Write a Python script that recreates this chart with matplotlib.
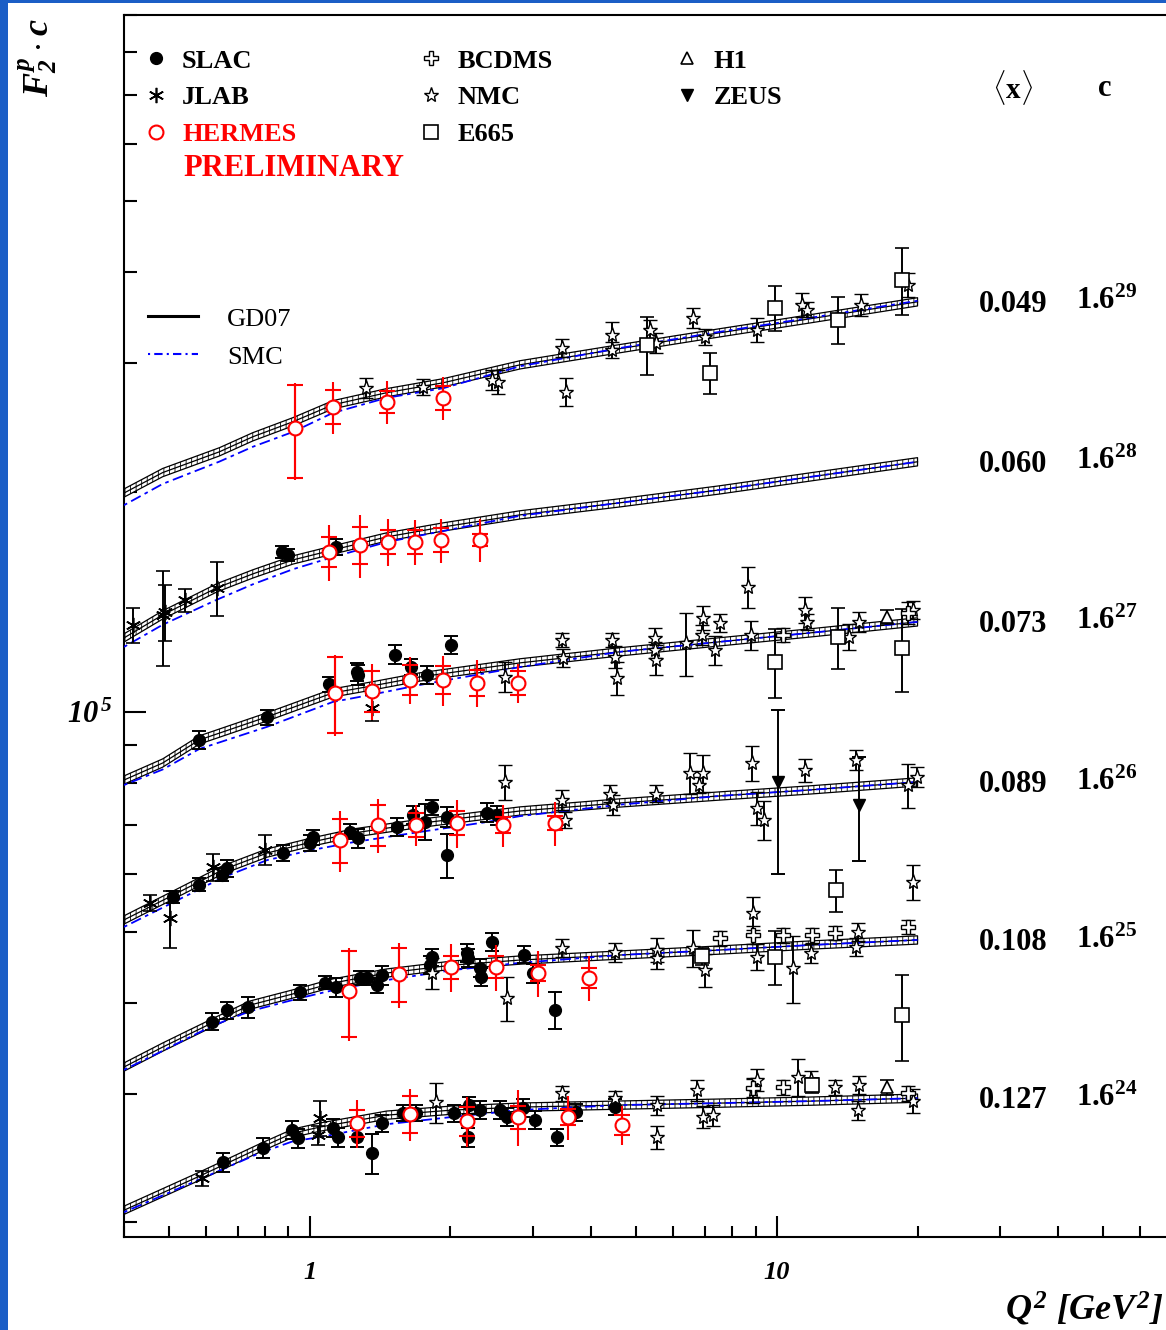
import numpy as np
import matplotlib
matplotlib.use('Agg')
import matplotlib.pyplot as plt
from matplotlib.lines import Line2D
from matplotlib.patches import Rectangle
from matplotlib.ticker import LogLocator, NullFormatter

plt.rcParams['font.family'] = 'Liberation Serif'
plt.rcParams['mathtext.fontset'] = 'custom'
plt.rcParams['mathtext.rm'] = 'Liberation Serif:italic:bold'
plt.rcParams['mathtext.bf'] = 'Liberation Serif:bold'
plt.rcParams['mathtext.it'] = 'Liberation Serif:italic:bold'
plt.rcParams['hatch.linewidth'] = 0.6

# x bins, each scaled by c = 1.6**n
X_MEAN = ['0.049', '0.060', '0.073', '0.089', '0.108', '0.127']
C_EXP = [29, 28, 27, 26, 25, 24]
C_BASE = 1.6
GD07_REL_ERR = 0.013   # half width of the GD07 band

# GD07 / SMC curves (Q2 knots, F2)
CURVE_Q2 = [
    [0.40, 0.484, 0.64, 0.755, 0.92, 1.12, 1.46, 1.93, 2.82, 4.6, 7.55, 11.8, 20],
    [0.40, 0.484, 0.632, 0.755, 0.92, 1.12, 1.46, 1.93, 2.82, 4.6, 7.55, 11.8, 20],
    [0.40, 0.484, 0.58, 0.81, 1.12, 1.36, 1.72, 2.82, 4.6, 7.55, 11.8, 20],
    [0.40, 0.51, 0.65, 0.81, 1.01, 1.24, 1.72, 2.39, 2.82, 4.6, 7.55, 11.8, 20],
    [0.40, 0.484, 0.617, 0.744, 0.952, 1.12, 1.46, 2.02, 2.82, 4.6, 7.55, 11.8, 20],
    [0.40, 0.58, 0.78, 0.92, 1.05, 1.46, 2.02, 2.82, 4.6, 7.55, 11.8, 20],
]
GD07_F2 = [
    [0.240, 0.256, 0.2733, 0.2866, 0.3005, 0.3170, 0.3293, 0.3398, 0.3596, 0.3783, 0.3978, 0.4158, 0.4386],
    [0.2432, 0.2615, 0.2848, 0.2976, 0.3110, 0.3209, 0.3344, 0.3451, 0.3585, 0.3723, 0.3879, 0.4041, 0.4238],
    [0.2486, 0.2623, 0.2821, 0.3034, 0.3272, 0.3345, 0.3441, 0.3597, 0.3724, 0.3844, 0.3954, 0.4093],
    [0.2559, 0.2768, 0.2996, 0.3160, 0.3272, 0.3366, 0.3470, 0.3562, 0.3608, 0.3700, 0.3783, 0.3856, 0.3954],
    [0.2575, 0.2742, 0.2958, 0.3130, 0.3261, 0.3356, 0.3463, 0.3551, 0.3608, 0.3665, 0.3724, 0.3783, 0.3844],
    [0.2623, 0.2920, 0.3191, 0.3345, 0.3409, 0.3540, 0.3597, 0.3631, 0.3654, 0.3677, 0.3700, 0.3735],
]
SMC_F2 = [
    [0.231, 0.247, 0.265, 0.2777, 0.291, 0.309, 0.324, 0.334, 0.358, 0.379, 0.399, 0.417, 0.440],
    [0.2364, 0.2535, 0.2743, 0.288, 0.302, 0.3138, 0.329, 0.3407, 0.3575, 0.3723, 0.3879, 0.4041, 0.4238],
    [0.2447, 0.257, 0.2742, 0.294, 0.318, 0.3255, 0.3355, 0.355, 0.3724, 0.3844, 0.3954, 0.4093],
    [0.2503, 0.2705, 0.2924, 0.309, 0.319, 0.327, 0.3377, 0.3484, 0.355, 0.368, 0.3783, 0.3856, 0.3954],
    [0.2552, 0.271, 0.293, 0.307, 0.320, 0.328, 0.3387, 0.3495, 0.3576, 0.3665, 0.3724, 0.3783, 0.3844],
    [0.2607, 0.289, 0.314, 0.326, 0.3303, 0.344, 0.352, 0.3598, 0.3654, 0.3677, 0.3700, 0.3735],
]

# data points: (bin, Q2, F2, error)
SLAC = [
    (1, 0.87, 0.319, 0.006), (1, 0.90, 0.316, 0.006), (1, 1.14, 0.324, 0.008),
    (2, 0.58, 0.282, 0.008), (2, 0.81, 0.303, 0.007), (2, 1.10, 0.336, 0.008),
    (2, 1.27, 0.346, 0.011), (2, 1.26, 0.350, 0.010), (2, 1.52, 0.369, 0.011),
    (2, 1.65, 0.355, 0.009), (2, 1.78, 0.346, 0.010), (2, 2.01, 0.381, 0.011),
    (3, 0.51, 0.275, 0.005), (3, 0.58, 0.286, 0.006), (3, 0.65, 0.295, 0.006),
    (3, 0.664, 0.301, 0.008), (3, 0.875, 0.316, 0.008), (3, 1.0, 0.326, 0.008),
    (3, 1.015, 0.332, 0.008), (3, 1.22, 0.338, 0.008), (3, 1.27, 0.331, 0.010),
    (3, 1.54, 0.343, 0.010), (3, 1.66, 0.356, 0.010), (3, 1.76, 0.349, 0.020),
    (3, 1.83, 0.365, 0.009), (3, 1.97, 0.314, 0.022), (3, 1.97, 0.354, 0.011),
    (3, 2.39, 0.359, 0.011), (3, 2.52, 0.356, 0.011),
    (4, 0.617, 0.297, 0.008), (4, 0.664, 0.308, 0.008), (4, 0.737, 0.311, 0.010),
    (4, 0.952, 0.326, 0.008), (4, 1.077, 0.336, 0.007), (4, 1.14, 0.331, 0.010),
    (4, 1.28, 0.341, 0.008), (4, 1.325, 0.341, 0.008), (4, 1.39, 0.333, 0.008),
    (4, 1.43, 0.344, 0.010), (4, 1.83, 0.364, 0.010), (4, 1.81, 0.355, 0.010),
    (4, 2.17, 0.369, 0.010), (4, 2.18, 0.363, 0.010), (4, 2.31, 0.352, 0.010),
    (4, 2.33, 0.342, 0.010), (4, 2.45, 0.382, 0.011), (4, 2.88, 0.367, 0.010),
    (4, 3.0, 0.346, 0.010), (4, 3.35, 0.308, 0.018),
    (5, 0.651, 0.305, 0.009), (5, 0.793, 0.319, 0.010), (5, 0.915, 0.338, 0.010),
    (5, 0.943, 0.329, 0.010), (5, 1.12, 0.340, 0.010), (5, 1.15, 0.330, 0.010),
    (5, 1.26, 0.330, 0.010), (5, 1.36, 0.314, 0.020), (5, 1.43, 0.345, 0.009),
    (5, 1.58, 0.356, 0.009), (5, 1.69, 0.356, 0.009), (5, 2.04, 0.356, 0.010),
    (5, 2.18, 0.330, 0.010), (5, 2.19, 0.365, 0.010), (5, 2.31, 0.360, 0.010),
    (5, 2.55, 0.360, 0.010), (5, 2.64, 0.352, 0.010), (5, 2.86, 0.362, 0.010),
    (5, 3.03, 0.349, 0.010), (5, 3.38, 0.330, 0.009), (5, 3.72, 0.357, 0.010),
    (5, 4.5, 0.363, 0.009),
]
JLAB = [
    (1, 0.418, 0.2534, 0.014), (1, 0.484, 0.2615, 0.039), (1, 0.49, 0.264, 0.023),
    (1, 0.54, 0.274, 0.010), (1, 0.632, 0.285, 0.024),
    (2, 1.36, 0.312, 0.013),
    (3, 0.454, 0.270, 0.007), (3, 0.501, 0.2575, 0.023), (3, 0.62, 0.302, 0.013),
    (3, 0.80, 0.319, 0.015),
    (5, 0.587, 0.290, 0.007), (5, 1.05, 0.3506, 0.019), (5, 1.04, 0.332, 0.010),
]
# HERMES: (bin, Q2, F2, stat, total)
HERMES = [
    (0, 0.929, 0.2947, 0.043, 0.045), (0, 1.12, 0.3150, 0.017, 0.026),
    (0, 1.46, 0.3200, 0.011, 0.022), (0, 1.93, 0.3240, 0.012, 0.022),
    (1, 1.10, 0.3191, 0.015, 0.028), (1, 1.28, 0.3261, 0.019, 0.032),
    (1, 1.47, 0.3293, 0.0125, 0.024), (1, 1.68, 0.3293, 0.0125, 0.023),
    (1, 1.91, 0.3313, 0.0125, 0.023), (1, 2.31, 0.3313, 0.006, 0.022),
    (2, 1.13, 0.3272, 0.039, 0.042), (2, 1.36, 0.3293, 0.021, 0.029),
    (2, 1.64, 0.3409, 0.016, 0.025), (2, 1.93, 0.3409, 0.015, 0.027),
    (2, 2.28, 0.3377, 0.014, 0.025), (2, 2.79, 0.3377, 0.013, 0.021),
    (3, 1.16, 0.3293, 0.023, 0.032), (3, 1.40, 0.3452, 0.022, 0.029),
    (3, 1.69, 0.3452, 0.013, 0.022), (3, 2.07, 0.3474, 0.013, 0.026),
    (3, 2.59, 0.3452, 0.009, 0.023), (3, 3.35, 0.3474, 0.008, 0.024),
    (4, 1.21, 0.3272, 0.044, 0.048), (4, 1.55, 0.3452, 0.029, 0.035),
    (4, 2.01, 0.3529, 0.013, 0.027), (4, 2.50, 0.3529, 0.012, 0.026),
    (4, 3.08, 0.3463, 0.009, 0.025), (4, 3.96, 0.3409, 0.011, 0.024),
    (5, 1.26, 0.3452, 0.015, 0.026), (5, 1.64, 0.3551, 0.021, 0.029),
    (5, 2.17, 0.3474, 0.016, 0.027), (5, 2.79, 0.3518, 0.013, 0.031),
    (5, 3.57, 0.3518, 0.009, 0.024), (5, 4.66, 0.3430, 0.011, 0.021),
]
NMC = [
    (0, 1.32, 0.3344, 0.0105), (0, 1.75, 0.3355, 0.0085), (0, 2.53, 0.3409, 0.013),
    (0, 2.45, 0.343, 0.011), (0, 3.46, 0.3794, 0.011), (0, 3.54, 0.3303, 0.015),
    (0, 4.43, 0.3952, 0.016), (0, 4.43, 0.3770, 0.0095), (0, 5.35, 0.4015, 0.012),
    (0, 5.5, 0.3855, 0.012), (0, 6.61, 0.4171, 0.013), (0, 7.01, 0.3927, 0.010),
    (0, 9.06, 0.4015, 0.015), (0, 11.3, 0.4345, 0.016), (0, 11.6, 0.4278, 0.010),
    (0, 15.1, 0.4345, 0.015), (0, 19.1, 0.4627, 0.017),
    (2, 2.62, 0.3441, 0.016), (2, 3.46, 0.3866, 0.009), (2, 3.48, 0.3654, 0.010),
    (2, 4.43, 0.3866, 0.009), (2, 4.5, 0.3665, 0.013), (2, 4.54, 0.3431, 0.018),
    (2, 5.48, 0.3891, 0.013), (2, 5.48, 0.3747, 0.009), (2, 5.5, 0.3631, 0.017),
    (2, 6.4, 0.3830, 0.038), (2, 6.94, 0.4147, 0.016), (2, 6.9, 0.3928, 0.012),
    (2, 7.38, 0.3747, 0.017), (2, 7.55, 0.4080, 0.011), (2, 8.67, 0.4571, 0.030),
    (2, 8.8, 0.3928, 0.018), (2, 11.5, 0.4252, 0.017), (2, 11.6, 0.4093, 0.010),
    (2, 14.3, 0.3903, 0.016), (2, 15.0, 0.4093, 0.013), (2, 19.6, 0.4252, 0.012),
    (3, 2.62, 0.3954, 0.022), (3, 3.46, 0.3736, 0.012), (3, 3.52, 0.3508, 0.009),
    (3, 4.45, 0.3677, 0.012), (3, 4.4, 0.381, 0.010), (3, 5.5, 0.381, 0.010),
    (3, 6.51, 0.4067, 0.026), (3, 6.94, 0.4067, 0.024), (3, 6.8, 0.392, 0.010),
    (3, 8.84, 0.4198, 0.023), (3, 9.06, 0.3643, 0.019), (3, 9.4, 0.3508, 0.022),
    (3, 11.5, 0.4106, 0.015), (3, 14.8, 0.4238, 0.013), (3, 19.1, 0.3916, 0.027),
    (3, 19.9, 0.4017, 0.013),
    (4, 1.83, 0.3463, 0.017), (4, 2.64, 0.3200, 0.022), (4, 3.46, 0.3748, 0.011),
    (4, 4.5, 0.3700, 0.011), (4, 5.54, 0.3724, 0.014), (4, 5.54, 0.3631, 0.012),
    (4, 6.6, 0.3748, 0.022), (4, 7.0, 0.3497, 0.018), (4, 8.9, 0.4185, 0.022),
    (4, 9.06, 0.3642, 0.015), (4, 10.8, 0.3518, 0.037), (4, 11.8, 0.3688, 0.011),
    (4, 14.9, 0.3940, 0.011), (4, 14.8, 0.3760, 0.011), (4, 19.6, 0.4613, 0.026),
    (5, 1.86, 0.3688, 0.023), (5, 3.46, 0.3795, 0.009), (5, 4.5, 0.3735, 0.009),
    (5, 5.54, 0.3654, 0.011), (5, 5.54, 0.3304, 0.012), (5, 6.74, 0.3831, 0.013),
    (5, 6.94, 0.3518, 0.012), (5, 7.3, 0.3540, 0.012), (5, 8.9, 0.3831, 0.015),
    (5, 9.06, 0.3954, 0.014), (5, 11.1, 0.3990, 0.023), (5, 11.8, 0.3954, 0.011),
    (5, 13.3, 0.3867, 0.009), (5, 15.0, 0.3891, 0.011), (5, 14.9, 0.3597, 0.011),
    (5, 19.6, 0.3700, 0.014),
]
BCDMS = [
    (2, 10.3, 0.3928, 0.009), (2, 19.1, 0.4211, 0.014),
    (4, 7.55, 0.3867, 0.009), (4, 8.9, 0.3903, 0.011), (4, 10.3, 0.3903, 0.009),
    (4, 11.9, 0.3903, 0.009), (4, 13.3, 0.3928, 0.009), (4, 19.1, 0.4003, 0.009),
    (5, 8.9, 0.3855, 0.011), (5, 10.3, 0.3867, 0.009), (5, 19.1, 0.3795, 0.009),
]
E665 = [
    (0, 5.27, 0.3830, 0.035), (0, 7.19, 0.3506, 0.023), (0, 9.9, 0.4305, 0.030),
    (0, 13.5, 0.4145, 0.031), (0, 18.5, 0.4701, 0.049),
    (2, 9.9, 0.3608, 0.039), (2, 13.5, 0.3903, 0.037), (2, 18.5, 0.3771, 0.049),
    (4, 6.9, 0.365, 0.010), (4, 9.9, 0.3642, 0.031), (4, 13.4, 0.4499, 0.030),
    (4, 18.5, 0.3033, 0.041),
    (5, 11.9, 0.3891, 0.009),
]
H1 = [
    (2, 17.2, 0.4158, 0.009), (5, 17.2, 0.3867, 0.009),
]
ZEUS = [
    (3, 10.05, 0.3954, 0.100), (3, 15.0, 0.3677, 0.060),
]

SLAC_STYLE = dict(marker='o', color='black', ms=8.5)
JLAB_STYLE = dict(marker=(6, 2, 0), color='black', ms=11, mew=1.2)
NMC_STYLE = dict(marker='*', color='black', mfc='white', ms=11, mew=1.0)
BCDMS_STYLE = dict(marker='P', color='black', mfc='white', ms=10, mew=1.0)
E665_STYLE = dict(marker='s', color='black', mfc='white', ms=10, mew=1.2)
H1_STYLE = dict(marker='^', color='black', mfc='white', ms=9, mew=1.2)
ZEUS_STYLE = dict(marker='v', color='black', ms=9)
HERMES_STYLE = dict(marker='o', color='red', mfc='white', ms=10, mew=1.5)


def scale(i):
    return C_BASE ** C_EXP[i]


def draw_black(ax, pts, style):
    for i in range(len(C_EXP)):
        sel = [p for p in pts if p[0] == i]
        if not sel:
            continue
        c = scale(i)
        q = [p[1] for p in sel]
        f = [p[2] * c for p in sel]
        e = [p[3] * c for p in sel]
        ax.errorbar(q, f, yerr=e, ls='none', elinewidth=1.4, capsize=5,
                    capthick=1.4, zorder=4, **style)


def draw_hermes(ax, pts):
    for i in range(len(C_EXP)):
        sel = [p for p in pts if p[0] == i]
        if not sel:
            continue
        c = scale(i)
        q = [p[1] for p in sel]
        f = [p[2] * c for p in sel]
        st = [p[3] * c for p in sel]
        tot = [p[4] * c for p in sel]
        ax.errorbar(q, f, yerr=tot, ls='none', ecolor='red', elinewidth=1.5,
                    capsize=0, zorder=5, marker='none')
        ax.errorbar(q, f, yerr=st, ls='none', ecolor='red', elinewidth=1.5,
                    capsize=6, capthick=1.5, zorder=6, **HERMES_STYLE)


fig = plt.figure(figsize=(11.66, 13.30), dpi=100)
fig.patch.set_facecolor('#1b5ec6')
fig.add_artist(Rectangle((8 / 1166, 0), 1, 1 - 3 / 1330, transform=fig.transFigure,
                         facecolor='white', edgecolor='none', zorder=-1))
fig.add_artist(Rectangle((1147 / 1166, 352 / 1330), 0.05, 158 / 1330,
                         transform=fig.transFigure, facecolor='#99ccff',
                         edgecolor='#444444', lw=1.0, zorder=-0.5))

ax = fig.add_axes([124 / 1166, 93 / 1330, 1120 / 1166, 1222 / 1330])
ax.set_xscale('log')
ax.set_yscale('log')
ax.set_xlim(0.40, 100)
ax.set_ylim(1.91e4, 9.0e5)

# curves
for i in range(len(C_EXP)):
    c = scale(i)
    q = CURVE_Q2[i]
    g = np.array(GD07_F2[i]) * c
    s = np.array(SMC_F2[i]) * c
    ax.fill_between(q, g * (1 - GD07_REL_ERR), g * (1 + GD07_REL_ERR),
                    facecolor='white', edgecolor='black', hatch='|||',
                    linewidth=0.9, zorder=2)
    ax.plot(q, g, color='black', lw=0.9, zorder=2.5)
    ax.plot(q, s, color='blue', lw=1.3, ls=(0, (2, 2.5, 6, 2.5)), zorder=3)
    ax.annotate(X_MEAN[i], xy=(q[-1], g[-1]), xytext=(44, -2),
                textcoords='offset points', fontsize=22, fontweight='bold',
                va='center', ha='left', annotation_clip=False)
    ax.annotate(r'$\mathbf{1.6^{%d}}$' % C_EXP[i], xy=(q[-1], g[-1]), xytext=(114, 0),
                textcoords='offset points', fontsize=22,
                va='center', ha='left', annotation_clip=False)

draw_black(ax, SLAC, SLAC_STYLE)
draw_black(ax, JLAB, JLAB_STYLE)
draw_black(ax, NMC, NMC_STYLE)
draw_black(ax, BCDMS, BCDMS_STYLE)
draw_black(ax, E665, E665_STYLE)
draw_black(ax, H1, H1_STYLE)
draw_black(ax, ZEUS, ZEUS_STYLE)
draw_hermes(ax, HERMES)

# axes and ticks
for sp in ax.spines.values():
    sp.set_linewidth(1.5)
ax.set_xticks([1, 10, 100], labels=['1', '10', ''], fontsize=19,
              fontstyle='italic', fontweight='bold')
ax.xaxis.set_minor_locator(LogLocator(base=10, subs=np.arange(2, 10), numticks=20))
ax.xaxis.set_minor_formatter(NullFormatter())
ax.set_yticks([1e5], labels=[r'$10^{\,5}$'], fontsize=22)
ax.yaxis.set_minor_locator(LogLocator(base=10, subs=np.arange(2, 10), numticks=20))
ax.yaxis.set_minor_formatter(NullFormatter())
ax.tick_params(axis='both', which='both', direction='in', top=False, right=False,
               width=1.5)
ax.tick_params(axis='x', which='major', length=15, pad=17)
ax.tick_params(axis='x', which='minor', length=8)
ax.tick_params(axis='y', which='major', length=16, pad=8)
ax.tick_params(axis='y', which='minor', length=9)

# experiment legend
exp_handles = [
    Line2D([], [], ls='none', **SLAC_STYLE),
    Line2D([], [], ls='none', **JLAB_STYLE),
    Line2D([], [], ls='none', **HERMES_STYLE),
    Line2D([], [], ls='none', **BCDMS_STYLE),
    Line2D([], [], ls='none', **NMC_STYLE),
    Line2D([], [], ls='none', **E665_STYLE),
    Line2D([], [], ls='none', **H1_STYLE),
    Line2D([], [], ls='none', **ZEUS_STYLE),
]
exp_labels = ['SLAC', 'JLAB', 'HERMES', 'BCDMS', 'NMC', 'E665', 'H1', 'ZEUS']
leg1 = ax.legend(exp_handles, exp_labels, ncol=3, loc='upper left',
                 bbox_to_anchor=(0.0165, 0.972), frameon=False, borderpad=0,
                 borderaxespad=0, handlelength=1.0, handletextpad=0.5,
                 columnspacing=4.6, labelspacing=0.5,
                 prop={'family': 'Liberation Serif', 'weight': 'bold', 'size': 19})
leg1.get_texts()[2].set_color('red')
ax.add_artist(leg1)
ax.text(0.0527, 0.874, 'PRELIMINARY', transform=ax.transAxes, color='red',
        fontsize=22, fontweight='bold', ha='left', va='center')

model_handles = [
    Line2D([], [], color='black', lw=2.2),
    Line2D([], [], color='blue', lw=1.5, ls=(0, (1, 2, 4, 2))),
]
ax.legend(model_handles, ['GD07', 'SMC'], loc='upper left',
          bbox_to_anchor=(0.0214, 0.761), frameon=False, borderpad=0,
          borderaxespad=0, handlelength=1.9, handletextpad=1.1,
          labelspacing=0.55, prop={'family': 'Liberation Serif', 'size': 19})

# header and axis titles
fig.text(1013 / 1166, 1 - 88 / 1330, r'$\langle\mathbf{x}\rangle$', fontsize=21,
         ha='center', va='center')
fig.text(1105 / 1166, 1 - 88 / 1330, 'c', fontsize=22, fontweight='bold',
         ha='center', va='center')
fig.text(38 / 1166, 1 - 58 / 1330, r'$F_2^p \cdot c$', rotation=90,
         fontsize=26, ha='center', va='center')
fig.text(1005 / 1166, 2 / 1330, r'$Q^2\ [GeV^2]$', fontsize=26,
         ha='left', va='bottom')

fig.savefig('out.png', dpi=100)
